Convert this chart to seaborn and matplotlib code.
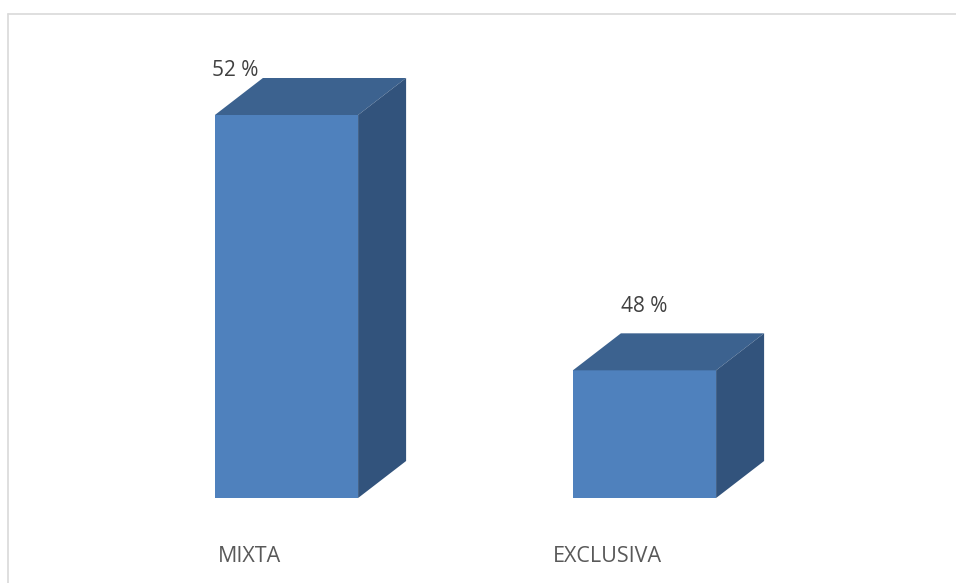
import matplotlib
matplotlib.use("Agg")
import matplotlib.pyplot as plt
from matplotlib.patches import Polygon
from matplotlib.lines import Line2D
import seaborn as sns
import pandas as pd

# Data
categories = ["MIXTA", "EXCLUSIVA"]
percentages = [52, 48]
value_labels = ["52 %", "48 %"]

sns.set_theme(style="white")
plt.rcParams["font.family"] = ["Open Sans", "DejaVu Sans"]

W, H, DPI = 956, 583, 100
fig = plt.figure(figsize=(W / DPI, H / DPI), dpi=DPI)

# plot area in pixels (left, right, top, bottom)
px_left, px_right, px_top, px_bottom = 8, 956, 14, 498
ax = fig.add_axes([px_left / W, (H - px_bottom) / H,
                   (px_right - px_left) / W, (px_bottom - px_top) / H])

front = "#4F81BD"
top_col = "#3C628F"
side_col = "#32537C"

df = pd.DataFrame({"cat": categories, "pct": percentages})
sns.barplot(data=df, x="cat", y="pct", color=front, saturation=1,
            width=0.4, ax=ax, linewidth=0, zorder=2)

# axis ranges
x_per_px = 1 / 358.0
xmin = -(286.5 - px_left) * x_per_px
xmax = xmin + (px_right - px_left) * x_per_px
base = 46.0
y_per_px = 6.0 / 383.0
ymax = base + (px_bottom - px_top) * y_per_px
ax.set_xlim(xmin, xmax)
ax.set_ylim(base, ymax)

# 3D depth of the bars
dx = 48 * x_per_px
dy = 37 * y_per_px

for patch in ax.patches[:]:
    x0 = patch.get_x()
    w = patch.get_width()
    h = patch.get_height()
    x1 = x0 + w
    ax.add_patch(Polygon([(x0, h), (x1, h), (x1 + dx, h + dy), (x0 + dx, h + dy)],
                         closed=True, facecolor=top_col, edgecolor="none", zorder=3))
    ax.add_patch(Polygon([(x1, base), (x1 + dx, base + dy), (x1 + dx, h + dy), (x1, h)],
                         closed=True, facecolor=side_col, edgecolor="none", zorder=3))

# value labels (pixel offsets from the bar's front-top centre)
label_offsets = [(-51, 45), (0, 64)]
for i, (val, txt) in enumerate(zip(percentages, value_labels)):
    ox, oy = label_offsets[i]
    ax.annotate(txt, xy=(i, val), xytext=(ox, oy), textcoords="offset pixels",
                ha="center", va="center", fontsize=15, color="#404040",
                annotation_clip=False)

# category labels under the bars
for i, cat in enumerate(categories):
    ax.annotate(cat, xy=(i, base), xytext=(-37, -58), textcoords="offset pixels",
                ha="center", va="center", fontsize=15.5, color="#595959",
                annotation_clip=False)

ax.set_xticks([])
ax.set_yticks([])
ax.set_xlabel("")
ax.set_ylabel("")
for s in ax.spines.values():
    s.set_visible(False)

# outer frame lines
fig.add_artist(Line2D([px_left / W, 1.0], [(H - px_top) / H] * 2,
                      transform=fig.transFigure, color="#D9D9D9", linewidth=1.2))
fig.add_artist(Line2D([px_left / W] * 2, [0, (H - px_top) / H],
                      transform=fig.transFigure, color="#D9D9D9", linewidth=1.2))

fig.savefig("out.png", dpi=DPI, facecolor="white")
